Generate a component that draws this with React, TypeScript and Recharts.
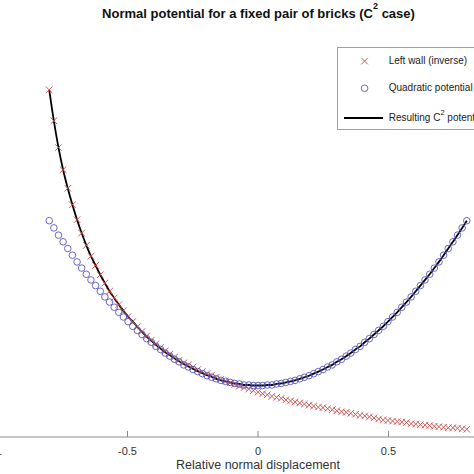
import React from 'react';
import { ComposedChart, Line, XAxis, YAxis, Legend } from 'recharts';

// Sample positions along the relative normal displacement
const xValues = [
  -0.8, -0.7822, -0.7644, -0.7467, -0.7289, -0.7111, -0.6933, -0.6756, -0.6578, -0.64,
  -0.6222, -0.6044, -0.5867, -0.5689, -0.5511, -0.5333, -0.5156, -0.4978, -0.48, -0.4622,
  -0.4444, -0.4267, -0.4089, -0.3911, -0.3733, -0.3556, -0.3378, -0.32, -0.3022, -0.2844,
  -0.2667, -0.2489, -0.2311, -0.2133, -0.1956, -0.1778, -0.16, -0.1422, -0.1244, -0.1067,
  -0.0889, -0.0711, -0.0533, -0.0356, -0.0178, 0,
  0.0178, 0.0356, 0.0533, 0.0711, 0.0889, 0.1067, 0.1244, 0.1422, 0.16, 0.1778,
  0.1956, 0.2133, 0.2311, 0.2489, 0.2667, 0.2844, 0.3022, 0.32, 0.3378, 0.3556,
  0.3733, 0.3911, 0.4089, 0.4267, 0.4444, 0.4622, 0.48, 0.4978, 0.5156, 0.5333,
  0.5511, 0.5689, 0.5867, 0.6044, 0.6222, 0.64, 0.6578, 0.6756, 0.6933, 0.7111,
  0.7289, 0.7467, 0.7644, 0.7822, 0.8,
];

// Left wall (inverse) — red crosses
const wallValues = [
  6.74, 6.14, 5.62, 5.19, 4.83, 4.51, 4.22, 3.96, 3.72, 3.51,
  3.33, 3.15, 2.99, 2.83, 2.70, 2.57, 2.45, 2.34, 2.24, 2.14,
  2.05, 1.96, 1.88, 1.81, 1.74, 1.67, 1.61, 1.55, 1.49, 1.44,
  1.40, 1.36, 1.31, 1.27, 1.23,
  1.20, 1.16, 1.12, 1.09, 1.05, 1.02, 0.99, 0.96, 0.93, 0.90,
  0.87, 0.84, 0.82, 0.79, 0.77, 0.75, 0.72, 0.70, 0.68, 0.66,
  0.64, 0.62, 0.60, 0.58, 0.57, 0.55,
  0.53, 0.51, 0.49, 0.48, 0.46, 0.44, 0.42, 0.41, 0.39, 0.37,
  0.35, 0.33, 0.32, 0.31, 0.30, 0.29, 0.28, 0.26, 0.25, 0.24,
  0.23, 0.22, 0.21, 0.20, 0.19, 0.18, 0.18, 0.17, 0.16, 0.15,
];

// Quadratic potential — blue circles
const quadValues = [
  4.20, 4.06, 3.92, 3.79, 3.66, 3.53, 3.40, 3.28, 3.16, 3.05,
  2.94, 2.83, 2.72, 2.62, 2.52, 2.42, 2.33, 2.24, 2.15, 2.07,
  1.99, 1.91, 1.84, 1.76, 1.70, 1.63, 1.57, 1.51, 1.46, 1.40,
  1.36, 1.31, 1.27, 1.23, 1.19, 1.16, 1.13, 1.10, 1.08, 1.06,
  1.04, 1.03, 1.01, 1.01, 1.00, 1.00,
  1.00, 1.01, 1.01, 1.03, 1.04, 1.06, 1.08, 1.10, 1.13, 1.16,
  1.19, 1.23, 1.27, 1.31, 1.36, 1.40, 1.46, 1.51, 1.57, 1.63,
  1.70, 1.76, 1.84, 1.91, 1.99, 2.07, 2.15, 2.24, 2.33, 2.42,
  2.52, 2.62, 2.72, 2.83, 2.94, 3.05, 3.16, 3.28, 3.40, 3.53,
  3.66, 3.79, 3.92, 4.06, 4.20,
];

// Resulting C2 potential — black line
const totalValues = [
  6.74, 6.14, 5.62, 5.19, 4.83, 4.51, 4.22, 3.96, 3.72, 3.51,
  3.33, 3.15, 2.99, 2.83, 2.70, 2.57, 2.45, 2.34, 2.24, 2.14,
  2.04, 1.95, 1.87, 1.79, 1.72, 1.65, 1.59, 1.53, 1.47, 1.42,
  1.37, 1.32, 1.28, 1.24, 1.20, 1.17, 1.13,
  1.10, 1.08, 1.06, 1.04, 1.03, 1.01, 1.01, 1.00, 1.00,
  1.00, 1.01, 1.01, 1.03, 1.04, 1.06, 1.08, 1.10, 1.13, 1.16,
  1.19, 1.23, 1.27, 1.31, 1.36, 1.40, 1.46, 1.51, 1.57, 1.63,
  1.70, 1.76, 1.84, 1.91, 1.99, 2.07, 2.15, 2.24, 2.33, 2.42,
  2.52, 2.62, 2.72, 2.83, 2.94, 3.05, 3.16, 3.28, 3.40, 3.53,
  3.66, 3.79, 3.92, 4.06, 4.20,
];

const xTicks = [-1, -0.5, 0, 0.5, 1];
const yTicks = [0, 1, 2, 3, 4, 5, 6, 7, 8];
const titleMain = 'Normal potential for a fixed pair of bricks (C';
const titleSup = '2';
const titleEnd = ' case)';
const xAxisLabel = 'Relative normal displacement';
const legendWall = 'Left wall (inverse)';
const legendQuad = 'Quadratic potential';
const legendTotalA = 'Resulting C';
const legendTotalSup = '2';
const legendTotalB = ' potential';

const rows = xValues.map((x, i) => ({
  x,
  wall: wallValues[i],
  quad: quadValues[i],
  total: totalValues[i],
}));

const RED = '#d04848';
const BLUE = '#5858bc';
const AXIS = '#8c8c8c';
const TEXT = '#333333';
const FONT = '"Liberation Sans", Arial, Helvetica, sans-serif';

const CrossDot = (props: any) => {
  const { cx, cy, index } = props;
  if (cx == null || cy == null) return <g key={`cw${index}`} />;
  const r = 3.3;
  return (
    <g key={`cw${index}`}>
      <line x1={cx - r} y1={cy - r} x2={cx + r} y2={cy + r} stroke={RED} strokeWidth={0.9} />
      <line x1={cx - r} y1={cy + r} x2={cx + r} y2={cy - r} stroke={RED} strokeWidth={0.9} />
    </g>
  );
};

const CircleDot = (props: any) => {
  const { cx, cy, index } = props;
  if (cx == null || cy == null) return <g key={`cq${index}`} />;
  return <circle key={`cq${index}`} cx={cx} cy={cy} r={3.3} fill="none" stroke={BLUE} strokeWidth={0.9} />;
};

const XTick = (props: any) => {
  const { x, y, payload } = props;
  return (
    <g>
      <line x1={x} y1={y} x2={x} y2={y - 6} stroke={AXIS} strokeWidth={1} />
      <text x={x} y={y + 18} textAnchor="middle" fontSize={11} fill={TEXT} fontFamily={FONT}>
        {String(payload.value)}
      </text>
    </g>
  );
};

const YTick = (props: any) => {
  const { x, y } = props;
  return (
    <g>
      <line x1={x} y1={y} x2={x + 6} y2={y} stroke={AXIS} strokeWidth={1} />
    </g>
  );
};

const LegendBox = () => (
  <div
    style={{
      position: 'relative',
      width: 160,
      height: 83,
      border: '1px solid #a0a0a0',
      background: '#ffffff',
      boxSizing: 'border-box',
      fontFamily: FONT,
      fontSize: 10,
      color: '#222',
    }}
  >
    <svg width={50} height={80} style={{ position: 'absolute', left: 0, top: 0 }}>
      <line x1={23.3} y1={9.8} x2={29.9} y2={16.4} stroke={RED} strokeWidth={0.9} />
      <line x1={23.3} y1={16.4} x2={29.9} y2={9.8} stroke={RED} strokeWidth={0.9} />
      <circle cx={26.6} cy={40.3} r={3.3} fill="none" stroke={BLUE} strokeWidth={0.9} />
      <line x1={6} y1={70} x2={45} y2={70} stroke="#000" strokeWidth={1.8} />
    </svg>
    <div style={{ position: 'absolute', left: 51, top: 6, lineHeight: '14px', whiteSpace: 'nowrap' }}>
      {legendWall}
    </div>
    <div style={{ position: 'absolute', left: 51, top: 33, lineHeight: '14px', whiteSpace: 'nowrap' }}>
      {legendQuad}
    </div>
    <div style={{ position: 'absolute', left: 51, top: 63, lineHeight: '14px', whiteSpace: 'nowrap' }}>
      {legendTotalA}
      <span style={{ fontSize: 7.5, position: 'relative', top: -6 }}>{legendTotalSup}</span>
      {legendTotalB}
    </div>
  </div>
);

export default function App() {
  return (
    <div
      style={{
        position: 'absolute',
        left: 0,
        top: 0,
        width: 474,
        height: 474,
        overflow: 'hidden',
        background: '#ffffff',
      }}
    >
      <div style={{ position: 'absolute', left: -3, top: 0 }}>
        <ComposedChart
          width={522}
          height={474}
          data={rows}
          margin={{ top: 25, right: 0, bottom: 0, left: 0 }}
          style={{ fontFamily: FONT }}
        >
          <XAxis
            dataKey="x"
            type="number"
            domain={[-1, 1]}
            ticks={xTicks}
            interval={0}
            allowDataOverflow
            height={37}
            tickSize={0}
            tickMargin={0}
            tickLine={false}
            axisLine={{ stroke: AXIS, strokeWidth: 1.2 }}
            tick={<XTick />}
            label={{
              value: xAxisLabel,
              position: 'insideBottom',
              offset: 5,
              fill: TEXT,
              fontSize: 12.5,
              fontFamily: FONT,
            }}
          />
          <YAxis
            type="number"
            domain={[0, 8]}
            ticks={yTicks}
            interval={0}
            allowDataOverflow
            width={0}
            tickSize={0}
            tickMargin={0}
            tickLine={false}
            axisLine={{ stroke: AXIS, strokeWidth: 1.2 }}
            tick={<YTick />}
          />
          <Legend
            layout="vertical"
            align="center"
            verticalAlign="middle"
            content={() => <LegendBox />}
            wrapperStyle={{ position: 'absolute', left: 339.7, top: 46.7, width: 'auto', height: 'auto' }}
          />
          <Line
            dataKey="wall"
            name={legendWall}
            stroke="none"
            strokeWidth={0}
            dot={CrossDot}
            activeDot={false}
            isAnimationActive={false}
          />
          <Line
            dataKey="quad"
            name={legendQuad}
            stroke="none"
            strokeWidth={0}
            dot={CircleDot}
            activeDot={false}
            isAnimationActive={false}
          />
          <Line
            dataKey="total"
            name="Resulting C2 potential"
            type="monotone"
            stroke="#000000"
            strokeWidth={1.8}
            dot={false}
            activeDot={false}
            isAnimationActive={false}
          />
        </ComposedChart>
      </div>
      <div
        style={{
          position: 'absolute',
          left: 0,
          top: 5.5,
          width: 517,
          textAlign: 'center',
          fontFamily: FONT,
          fontWeight: 'bold',
          fontSize: 13,
          lineHeight: '15px',
          color: '#111',
          whiteSpace: 'nowrap',
        }}
      >
        {titleMain}
        <span style={{ fontSize: 9, position: 'relative', top: -9 }}>{titleSup}</span>
        {titleEnd}
      </div>
    </div>
  );
}
